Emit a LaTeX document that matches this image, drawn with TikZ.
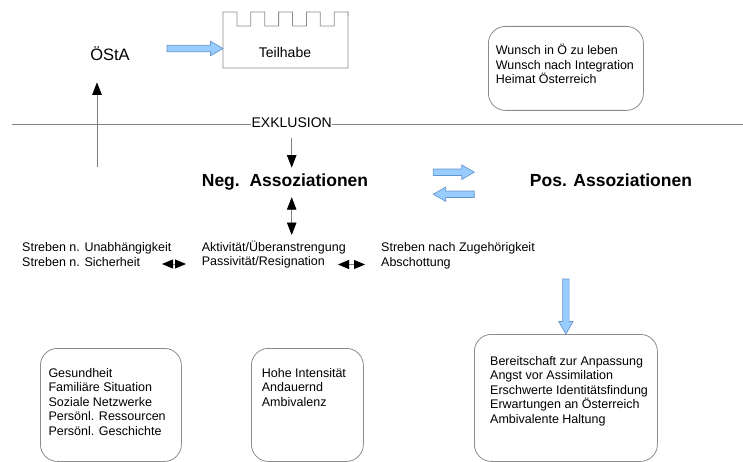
\documentclass[tikz,border=0pt]{standalone}
\usepackage{fontspec}
\setmainfont{Liberation Sans}
\usepackage{xcolor}
\usepackage{tikz}
\usetikzlibrary{arrows.meta, positioning, calc}

\definecolor{arrowfill}{RGB}{153,204,255}
\definecolor{arrowedge}{RGB}{102,150,205}
\definecolor{framegray}{RGB}{140,140,140}
\definecolor{linegray}{RGB}{128,128,128}

\begin{document}
\begin{tikzpicture}[
    x=1pt, y=-1pt,
    txt/.style={font=\fontsize{12.5}{14.5}\selectfont, align=left, inner sep=0pt, anchor=north west},
    big/.style={font=\fontsize{17.5}{20}\selectfont\bfseries, inner sep=0pt, anchor=base},
    panel/.style={rectangle, draw=framegray, line width=0.8pt, rounded corners=17pt, anchor=north west},
    guide/.style={draw=linegray, line width=0.8pt},
    onearrow/.style={guide, -{Triangle[length=12.5pt, width=9.5pt, color=black]}},
    twoway/.style={guide, {Triangle[length=12.5pt, width=9.5pt, color=black]}-{Triangle[length=12.5pt, width=9.5pt, color=black]}},
    tradeoff/.style={guide, {Triangle[length=11pt, width=9pt, color=black]}-{Triangle[length=11pt, width=9pt, color=black]}},
    bluearrow/.style={draw=arrowedge, fill=arrowfill, line width=0.7pt, line join=miter,
      to path={
        ($(\tikztotarget)!12.5pt!(\tikztostart)$) coordinate (neck)
        ($(\tikztostart)!3.2pt!90:(\tikztotarget)$)
          -- ($(neck)!3.2pt!90:(\tikztotarget)$)
          -- ($(neck)!7.2pt!90:(\tikztotarget)$)
          -- (\tikztotarget)
          -- ($(neck)!7.2pt!-90:(\tikztotarget)$)
          -- ($(neck)!3.2pt!-90:(\tikztotarget)$)
          -- ($(\tikztostart)!3.2pt!-90:(\tikztotarget)$)
          -- cycle
      }},
  ]
  \useasboundingbox (0,0) rectangle (743,462);

  % oben: Staatsbuergerschaft und Teilhabe
  \node[font=\fontsize{16.5}{20}\selectfont, inner sep=0pt, anchor=base] (osta) at (110,61) {ÖStA};

  \draw[guide, draw=framegray] (223,68) -- (223,12)
    \foreach \k in {1,...,4} { -- ++(13.9,0) -- ++(0,14) -- ++(13.9,0) -- ++(0,-14) }
    -- ++(13.9,0) -- (348,68) -- cycle;
  \coordinate (tor) at (223,48.5);
  \node[font=\fontsize{14}{16}\selectfont, inner sep=0pt, anchor=base] (teilhabe) at (285,57.5) {Teilhabe};

  \node[panel, minimum width=155pt, minimum height=84pt] (wunschbox) at (488,26) {};
  \node[txt, below right=18pt and 7.7pt of wunschbox.north west] (wunsch) {
    Wunsch in Ö zu leben\\
    Wunsch nach Integration\\
    Heimat Österreich
  };

  % Trennlinie
  \draw[guide] (12,124) -- (743,124);
  \node[font=\fontsize{14}{16}\selectfont, fill=white, inner sep=0.5pt, anchor=base] (exkl) at (291.7,127.7) {EXKLUSION};

  % Mitte
  \node[big] (neg) at (285,186.7) {Neg.\ \ Assoziationen};
  \node[big] (pos) at (611,186.7) {Pos. Assoziationen};

  \node[txt] (streben) at (22,242.5) {
    Streben n. Unabhängigkeit\\
    Streben n. Sicherheit
  };
  \node[txt] (akt) at (201.7,240.6) {
    Aktivität/Überanstrengung\\
    Passivität/Resignation
  };
  \node[txt] (zug) at (381,242.5) {
    Streben nach Zugehörigkeit\\
    Abschottung
  };

  % unten
  \node[panel, minimum width=141pt, minimum height=113pt] (box1) at (40,348) {};
  \node[txt, below right=20pt and 8.3pt of box1.north west] (faktoren) {
    Gesundheit\\
    Familiäre Situation\\
    Soziale Netzwerke\\
    Persönl. Ressourcen\\
    Persönl. Geschichte
  };
  \node[panel, minimum width=112pt, minimum height=113pt] (box2) at (251,348) {};
  \node[txt, below right=20pt and 10.7pt of box2.north west] (qualitaet) {
    Hohe Intensität\\
    Andauernd\\
    Ambivalenz
  };
  \node[panel, minimum width=183pt, minimum height=127pt] (box3) at (474,334) {};
  \node[txt, below right=21.8pt and 16pt of box3.north west] (folgen) {
    Bereitschaft zur Anpassung\\
    Angst vor Assimilation\\
    Erschwerte Identitätsfindung\\
    Erwartungen an Österreich\\
    Ambivalente Haltung
  };

  % Verbindungen
  \coordinate (aufstieg) at (97,167);
  \draw[onearrow, shorten >=21pt] (aufstieg) -- (aufstieg |- osta.south);
  \draw[bluearrow] ([xshift=-56pt]tor) to (tor);

  \draw[onearrow, shorten <=9.8pt, shorten >=6.2pt] (exkl.south) -- (exkl.south |- neg.north);
  \draw[twoway, shorten <=6.6pt, shorten >=5.6pt] (exkl.south |- neg.south) -- (exkl.south |- akt.north);

  \draw[bluearrow] ([shift={(65pt,10pt)}]neg.east) to ([shift={(106pt,10pt)}]neg.east);
  \draw[bluearrow] ([shift={(106pt,-12pt)}]neg.east) to ([shift={(65pt,-12pt)}]neg.east);

  \coordinate (w1a) at (162,264);
  \coordinate (w1b) at (186,264);
  \coordinate (w2a) at (338,264.5);
  \coordinate (w2b) at (365,264.5);
  \draw[tradeoff] (w1a) -- (w1b);
  \draw[tradeoff] (w2a) -- (w2b);

  \draw[bluearrow] ([yshift=55pt]box3.north) to (box3.north);
\end{tikzpicture}
\end{document}
